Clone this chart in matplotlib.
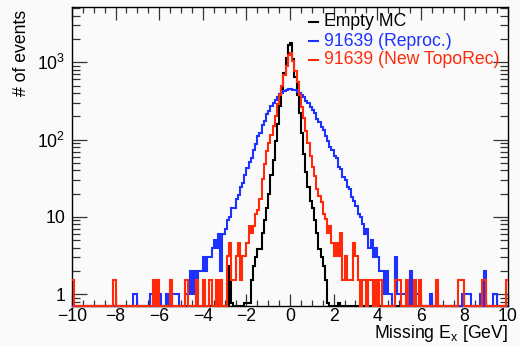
import numpy as np
import matplotlib
matplotlib.use("Agg")
import matplotlib.pyplot as plt
from matplotlib.ticker import FixedLocator, FixedFormatter, MultipleLocator, LogLocator, NullFormatter

plt.rcParams['font.family'] = ['Liberation Sans', 'DejaVu Sans']
plt.rcParams['mathtext.fontset'] = 'custom'
plt.rcParams['mathtext.rm'] = 'Liberation Sans'
plt.rcParams['mathtext.it'] = 'Liberation Sans:italic'
plt.rcParams['mathtext.bf'] = 'Liberation Sans:bold'

# ---- histogram binning ----
x_min, x_max, n_bins = -10.0, 10.0, 200

# ---- bin contents (raw counts, 10 bins per unit from -10 to 10) ----
empty_mc_counts = (
    [0]*10 + [0]*10 + [0]*10 + [0]*10 + [0]*10 + [0]*10 + [0]*10
    + [0, 0, 3, 1, 0, 0, 0, 0, 0, 1]
    + [1, 1, 2, 3, 4, 5, 5, 8, 12, 17]
    + [26, 46, 72, 125, 211, 355, 592, 947, 1513, 2237]
    + [2342, 1447, 855, 500, 289, 158, 86, 50, 32, 21]
    + [17, 12, 8, 5, 4, 3, 2, 1, 0, 0]
    + [0, 0, 1, 0, 0, 0, 0, 0, 0, 0]
    + [0]*10 + [0]*10 + [0]*10 + [0]*10 + [0]*10 + [0]*10 + [0]*10
)

reproc_counts = (
    [0]*10 + [0]*10
    + [0, 0, 0, 0, 0, 0, 0, 0, 1, 1]
    + [0, 0, 0, 0, 0, 0, 1, 0, 0, 1]
    + [1, 0, 0, 1, 0, 0, 1, 1, 1, 0]
    + [0, 0, 1, 1, 2, 1, 2, 1, 2, 2]
    + [3, 2, 3, 3, 4, 5, 4, 6, 2, 6]
    + [7, 9, 10, 13, 13, 17, 19, 24, 27, 35]
    + [43, 51, 58, 74, 88, 110, 122, 153, 175, 212]
    + [232, 268, 295, 326, 352, 390, 400, 428, 436, 452]
    + [455, 441, 433, 415, 404, 376, 352, 318, 293, 262]
    + [243, 218, 186, 168, 147, 133, 110, 97, 80, 74]
    + [62, 57, 44, 41, 33, 30, 24, 23, 18, 16]
    + [14, 11, 10, 8, 6, 7, 4, 5, 3, 4]
    + [3, 2, 2, 1, 2, 1, 1, 0, 3, 1]
    + [1, 1, 1, 0, 0, 2, 0, 1, 1, 0]
    + [0, 0, 0, 0, 1, 0, 0, 1, 0, 0]
    + [0, 0, 0, 0, 0, 0, 0, 0, 0, 1]
    + [1, 1, 1, 0, 0, 0, 0, 1, 0, 2]
    + [0, 0, 0, 1, 1, 0, 0, 0, 0, 0]
)

newtopo_counts = (
    [1, 0, 0, 0, 0, 0, 0, 0, 0, 0]
    + [0, 0, 0, 0, 0, 0, 0, 0, 0, 1]
    + [0]*10
    + [0, 0, 0, 0, 0, 0, 0, 1, 0, 1]
    + [0, 0, 0, 0, 0, 1, 0, 0, 0, 0]
    + [0, 0, 1, 0, 0, 0, 0, 1, 0, 0]
    + [1, 0, 0, 1, 0, 0, 1, 0, 1, 0]
    + [0, 2, 3, 1, 1, 2, 3, 1, 2, 2]
    + [3, 5, 4, 5, 7, 8, 11, 20, 31, 46]
    + [58, 75, 97, 130, 188, 247, 325, 442, 584, 812]
    + [857, 682, 494, 364, 247, 172, 123, 84, 58, 40]
    + [29, 22, 15, 12, 10, 7, 6, 4, 5, 3]
    + [2, 3, 2, 4, 1, 2, 1, 1, 1, 3]
    + [2, 1, 0, 1, 1, 0, 1, 1, 0, 1]
    + [0, 1, 0, 0, 0, 0, 0, 0, 1, 1]
    + [1, 0, 0, 1, 0, 0, 0, 1, 0, 1]
    + [0, 0, 0, 0, 0, 0, 0, 1, 0, 0]
    + [0, 0, 0, 0, 0, 0, 0, 1, 1, 1]
    + [0, 0, 0, 0, 0, 0, 0, 0, 1, 1]
    + [0, 0, 0, 0, 0, 0, 0, 0, 0, 1]
)

# normalisation factors applied to each histogram
empty_mc_scale = 0.76
reproc_scale = 1.0
newtopo_scale = 1.54

series_labels = ["Empty MC", "91639 (Reproc.)", "91639 (New TopoRec)"]
series_colors = ["#000000", "#1e32ff", "#ff2a0a"]

y_tick_values = [1, 10, 100, 1000]
y_tick_labels = ["1", "10", r"$10^{2}$", r"$10^{3}$"]
x_tick_values = [-10, -8, -6, -4, -2, 0, 2, 4, 6, 8, 10]

# ---- figure ----
W, H = 520, 347
bg = "#fafafa"
fig = plt.figure(figsize=(W / 100, H / 100), dpi=100, facecolor=bg)
ax = fig.add_axes([72 / W, 1 - 306 / H, (508 - 72) / W, (306 - 7) / H])
ax.set_facecolor(bg)

y_lo, y_hi = 0.70, 5200
edges = np.linspace(x_min, x_max, n_bins + 1)

for counts, scale, col in [(empty_mc_counts, empty_mc_scale, series_colors[0]),
                           (reproc_counts, reproc_scale, series_colors[1]),
                           (newtopo_counts, newtopo_scale, series_colors[2])]:
    c = np.asarray(counts, dtype=float)
    vals = np.where(c > 0, c * scale, y_lo)
    ax.stairs(vals, edges, baseline=None, color=col, lw=1.5, zorder=3, clip_on=False)

ax.set_yscale("log")
ax.set_xlim(x_min, x_max)
ax.set_ylim(y_lo, y_hi)

ax.xaxis.set_major_locator(FixedLocator(x_tick_values))
ax.xaxis.set_minor_locator(MultipleLocator(0.5))
ax.yaxis.set_major_locator(FixedLocator(y_tick_values))
ax.yaxis.set_major_formatter(FixedFormatter(y_tick_labels))
ax.yaxis.set_minor_locator(LogLocator(base=10, subs=np.arange(2, 10)))
ax.yaxis.set_minor_formatter(NullFormatter())

fs = 12.7
ax.tick_params(axis="both", which="both", direction="in", top=True, right=True,
               colors="#333333", labelcolor="black", labelsize=fs, width=0.9)
ax.tick_params(axis="x", which="major", length=9, pad=1.5)
ax.tick_params(axis="x", which="minor", length=4.5)
ax.tick_params(axis="y", which="major", length=11, pad=5)
ax.tick_params(axis="y", which="minor", length=6)
for s in ax.spines.values():
    s.set_linewidth(1.0)
    s.set_color("black")

fig.text(508 / W, 1 - 338.5 / H, r"Missing E$_{\mathrm{x}}$ [GeV]", ha="right", va="baseline", fontsize=fs)
fig.text(21 / W, 1 - 10 / H, "# of events", ha="center", va="top", rotation=90, fontsize=fs)

# legend
leg_y = [21.5, 41.0, 59.5]
for lab, col, yy in zip(series_labels, series_colors, leg_y):
    fig.add_artist(plt.Line2D([309 / W, 318 / W], [1 - yy / H, 1 - yy / H], color=col, lw=1.5,
                              transform=fig.transFigure))
    fig.text(324 / W, 1 - yy / H, lab, color=col, ha="left", va="center", fontsize=fs)

fig.savefig("out.png", dpi=100, facecolor=bg)
